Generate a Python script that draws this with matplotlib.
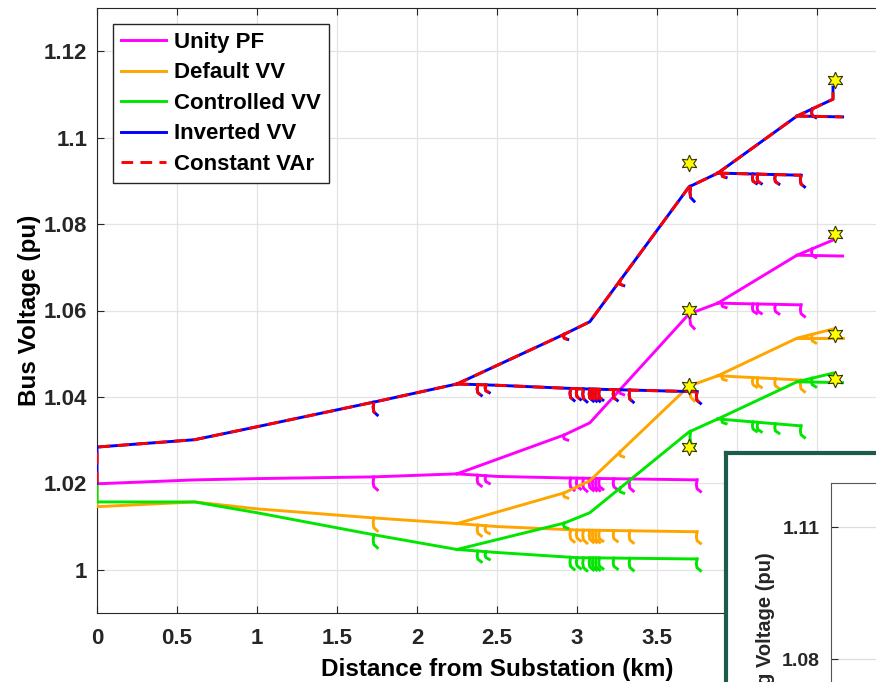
import numpy as np
import matplotlib.pyplot as plt

plt.rcParams['font.family'] = ['Liberation Sans', 'DejaVu Sans']
plt.rcParams['font.weight'] = 'bold'

modes = ['Unity PF', 'Default VV', 'Controlled VV', 'Inverted VV', 'Constant VAr']
colors = ['#ff00ff', '#ffa500', '#00e600', '#0000ff', '#ff0000']

# feeder sections: distance (km) and bus voltage (pu) for each mode, in the order of modes
trunk_km = [0, 0, 0.61, 1.0, 1.73, 2.25]
trunk_pu = [[1.020, 1.0199, 1.0208, 1.0211, 1.0215, 1.0222],
            [1.020, 1.0146, 1.0157, 1.0141, 1.0120, 1.0107],
            [1.020, 1.0157, 1.0157, 1.0132, 1.0081, 1.0047],
            [1.020, 1.0284, 1.0301, 1.0331, 1.0388, 1.0430],
            [1.020, 1.0284, 1.0301, 1.0331, 1.0388, 1.0430]]

B_km = [2.25, 2.5, 3.0, 3.75]
B_pu = [[1.0222, 1.0216, 1.0212, 1.0208],
        [1.0107, 1.0100, 1.0092, 1.0088],
        [1.0047, 1.0040, 1.0028, 1.0025],
        [1.0430, 1.0427, 1.0419, 1.0412],
        [1.0430, 1.0427, 1.0419, 1.0412]]

C_km = [2.25, 2.92, 3.08, 3.70, 3.88]
C_pu = [[1.0222, 1.0312, 1.0340, 1.0592, 1.0617],
        [1.0107, 1.0178, 1.0206, 1.0425, 1.0449],
        [1.0047, 1.0108, 1.0132, 1.0319, 1.0349],
        [1.0430, 1.0545, 1.0574, 1.0886, 1.0918],
        [1.0430, 1.0545, 1.0574, 1.0886, 1.0918]]

D_km = [3.88, 4.40]
D_pu = [[1.0617, 1.0613],
        [1.0449, 1.0439],
        [1.0349, 1.0333],
        [1.0918, 1.0913],
        [1.0918, 1.0913]]

E_km = [3.88, 4.375, 4.60, 4.60]
E_pu = [[1.0617, 1.0728, 1.0763, 1.0763],
        [1.0449, 1.0536, 1.0557, 1.0557],
        [1.0349, 1.0435, 1.0455, 1.0455],
        [1.0918, 1.1050, 1.1089, 1.1117],
        [1.0918, 1.1050, 1.1089, 1.1117]]

F_km = [4.375, 4.66]
F_pu = [[1.0728, 1.0726],
        [1.0536, 1.0536],
        [1.0435, 1.0433],
        [1.1050, 1.1048],
        [1.1050, 1.1048]]

# short laterals: section they hang from, distance, voltage drop (pu)
lat_on = ['trunk'] + ['B'] * 12 + ['C'] * 3 + ['D'] * 5 + ['E']
lat_km = [1.73, 2.38, 2.43, 2.96, 3.00, 3.04, 3.08, 3.10, 3.12, 3.14, 3.23, 3.33, 3.75,
          2.92, 3.27, 3.71, 3.91, 4.10, 4.13, 4.24, 4.40, 4.47]
lat_drop = [0.003, 0.0025, 0.0018, 0.0028, 0.0025, 0.003, 0.0028, 0.0028, 0.0028, 0.0025,
            0.0025, 0.0028, 0.0027, 0.0012, 0.0012, 0.0035, 0.001, 0.0022, 0.0022, 0.0022,
            0.0027, 0.002]

# PV bus markers
star1_km = 3.70
star1_pu = [1.0941, 1.0601, 1.0425, 1.0284]
star2_km = 4.61
star2_pu = [1.1133, 1.0777, 1.0546, 1.0442]

xticks = [0, 0.5, 1, 1.5, 2, 2.5, 3, 3.5, 4, 4.5]
xticklabels = ['0', '0.5', '1', '1.5', '2', '2.5', '3', '3.5', '4', '4.5']
yticks = [1.0, 1.02, 1.04, 1.06, 1.08, 1.1, 1.12]
yticklabels = ['1', '1.02', '1.04', '1.06', '1.08', '1.1', '1.12']

sections = {'trunk': (trunk_km, trunk_pu), 'B': (B_km, B_pu), 'C': (C_km, C_pu),
            'D': (D_km, D_pu), 'E': (E_km, E_pu), 'F': (F_km, F_pu)}
hook_dx = np.array([0, -0.004, 0.0, 0.022])
hook_dv = np.array([0, 0.4, 0.75, 1.0])

W, H = 876, 682
fig = plt.figure(figsize=(W / 100, H / 100), dpi=100)
ax = fig.add_axes([97 / W, 69 / H, 800 / W, 605 / H])

handles = []
for i, mode in enumerate(modes):
    style = dict(color=colors[i], lw=2.1, zorder=2 + i)
    if mode == 'Constant VAr':
        style['linestyle'] = (0, (4, 2.5))
    first = True
    for key, (km, pu) in sections.items():
        ln, = ax.plot(km, pu[i], **style)
        if first:
            handles.append(ln)
            first = False
    for sec, d, drop in zip(lat_on, lat_km, lat_drop):
        km, pu = sections[sec]
        v0 = np.interp(d, km[1:], pu[i][1:]) if sec == 'trunk' else np.interp(d, km, pu[i])
        ax.plot(d + hook_dx, v0 - drop * hook_dv, **style)

star_style = dict(marker=(6, 1, 0), markersize=12, markerfacecolor='#ffff00',
                  markeredgecolor='#333300', markeredgewidth=0.8, linestyle='none', zorder=10)
ax.plot([star1_km] * len(star1_pu), star1_pu, **star_style)
ax.plot([star2_km] * len(star2_pu), star2_pu, **star_style)

ax.set_xlim(0, 5)
ax.set_ylim(0.99, 1.13)
ax.set_xticks(xticks)
ax.set_xticklabels(xticklabels)
ax.set_yticks(yticks)
ax.set_yticklabels(yticklabels)
ax.tick_params(direction='in', length=5, width=0.8, top=True, right=True,
               labelsize=16, colors='#262626')
ax.tick_params(axis='x', pad=11)
ax.tick_params(axis='y', pad=7)
for lab in ax.get_xticklabels() + ax.get_yticklabels():
    lab.set_fontweight('bold')
    lab.set_color('#262626')
for s in ax.spines.values():
    s.set_color('#262626')
    s.set_linewidth(0.8)
ax.grid(True, color='#e3e3e3', lw=0.9)
ax.set_axisbelow(True)
ax.set_xlabel('Distance from Substation (km)', fontsize=17.5, fontweight='bold', labelpad=6)
ax.set_ylabel('Bus Voltage (pu)', fontsize=17.5, fontweight='bold', labelpad=2)

leg = ax.legend(handles, modes, loc='upper left', bbox_to_anchor=(113 / W, 1 - 24 / H),
                bbox_transform=fig.transFigure, borderaxespad=0, fontsize=16,
                handlelength=2.05, handletextpad=0.35, labelspacing=0.43, borderpad=0.35,
                fancybox=False, framealpha=1, edgecolor='#262626')
leg.get_frame().set_linewidth(1.0)
for t in leg.get_texts():
    t.set_fontweight('bold')

# inset panel (cut off at the figure edge)
box = fig.add_axes([726 / W, -0.1, 0.3, (H - 453) / H + 0.1])
box.set_xticks([])
box.set_yticks([])
for s in box.spines.values():
    s.set_color('#1d5c4c')
    s.set_linewidth(3)
box.set_zorder(20)

ax2 = fig.add_axes([831 / W, (H - 791) / H, 200 / W, 308 / H])
ax2.set_zorder(21)
ax2.set_ylim(1.05, 1.12)
ax2.set_xlim(0, 1)
ax2.set_xticks([])
ax2.set_yticks([1.08, 1.11])
ax2.set_yticklabels(['1.08', '1.11'])
ax2.tick_params(direction='in', length=5, labelsize=14, colors='#262626', pad=8)
for lab in ax2.get_yticklabels():
    lab.set_fontweight('bold')
ax2.grid(True, axis='y', color='#dddddd', lw=0.9)
for s in ax2.spines.values():
    s.set_color('#555555')
    s.set_linewidth(0.8)
ax2.set_ylabel('Avg Voltage (pu)', fontsize=14.5, fontweight='bold', color='#262626')
ax2.yaxis.set_label_coords(-0.28, 0.52)

fig.savefig('out.png', dpi=100)
